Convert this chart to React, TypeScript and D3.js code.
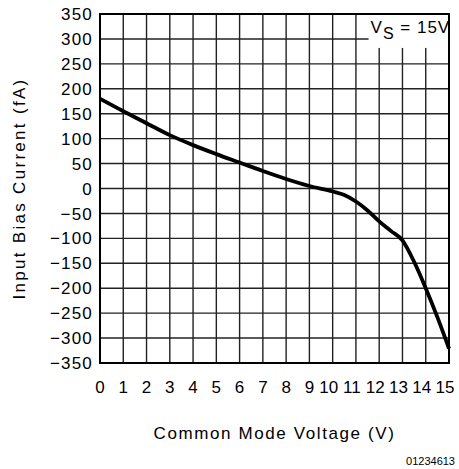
import React from 'react'
import * as d3 from 'd3'

// Common mode voltage (V) and input bias current (fA)
const voltage = [0, 1, 2, 3, 4, 5, 6, 7, 8, 9, 10, 10.5, 11, 11.5, 12, 12.5, 13, 13.5, 14, 14.5, 15]
const biasCurrent = [180, 155, 131, 107, 87, 69, 52, 35, 19, 5, -6, -13, -26, -44, -66, -85, -104, -147, -200, -258, -321]

const xTicks = d3.range(0, 16, 1)
const yTicks = d3.range(-350, 351, 50)

const xLabel = 'Common Mode Voltage (V)'
const yLabel = 'Input Bias Current (fA)'
const noteId = '01234613'

const W = 459
const H = 469
const margin = { left: 100, right: 10, top: 14, bottom: 106 }
const font = '"Liberation Sans", Arial, sans-serif'

const fmt = (v: number) => (v < 0 ? '\u2212' + Math.abs(v) : String(v))

export default function App () {
    const x = d3.scaleLinear().domain([0, 15]).range([margin.left, W - margin.right])
    const y = d3.scaleLinear().domain([-350, 350]).range([H - margin.bottom, margin.top])

    const line = d3.line<number>()
        .x((_, i) => x(voltage[i]))
        .y((d) => y(d))
        .curve(d3.curveMonotoneX)

    const boxLeft = x(11.5) + 1
    const boxBottom = y(300) + 9

    return (
        <svg width={W} height={H} style={{ position: 'absolute', left: 0, top: 0, background: '#fff' }}>
            {/* grid */}
            <g stroke='#222' strokeWidth={1.4}>
                {xTicks.map((t) => (
                    <line key={'vx' + t} x1={x(t)} x2={x(t)} y1={y(-350)} y2={y(350)} />
                ))}
                {yTicks.map((t) => (
                    <line key={'hy' + t} x1={x(0)} x2={x(15)} y1={y(t)} y2={y(t)} />
                ))}
            </g>
            {/* legend box clears the grid behind it */}
            <rect x={boxLeft} y={y(350) + 1} width={x(15) - boxLeft - 1} height={boxBottom - y(350) - 1} fill='#fff' />
            <text x={boxLeft + 2} y={y(350) + 19} fontFamily={font} fontSize={17} letterSpacing={1} fill='#000'>
                V<tspan fontSize={16} dy={6}>S</tspan><tspan dy={-6}> = 15V</tspan>
            </text>
            <rect x={x(0)} y={y(350)} width={x(15) - x(0)} height={y(-350) - y(350)} fill='none' stroke='#000' strokeWidth={2} />
            {/* curve */}
            <path d={line(biasCurrent) || ''} fill='none' stroke='#000' strokeWidth={3.8} strokeLinejoin='round' />
            {/* y tick labels */}
            {yTicks.map((t) => (
                <text key={'yl' + t} x={x(0) - 7} y={y(t)} dy='0.36em' textAnchor='end' fontFamily={font} fontSize={17} letterSpacing={1.2} fill='#000'>
                    {fmt(t)}
                </text>
            ))}
            {/* x tick labels */}
            {xTicks.map((t) => (
                <text key={'xl' + t} x={x(t) - (t >= 10 ? 4 : 0)} y={y(-350) + 30} textAnchor='middle' fontFamily={font} fontSize={17} fill='#000'>
                    {t}
                </text>
            ))}
            <text x={(x(0) + x(15)) / 2} y={y(-350) + 76} textAnchor='middle' fontFamily={font} fontSize={17} letterSpacing={1.6} fill='#000'>
                {xLabel}
            </text>
            <text
                transform={`translate(25, ${(y(350) + y(-350)) / 2}) rotate(-90)`}
                textAnchor='middle'
                fontFamily={font}
                fontSize={17}
                letterSpacing={2.3}
                fill='#000'
            >
                {yLabel}
            </text>
            <text x={455} y={465} textAnchor='end' fontFamily={font} fontSize={11} fill='#000'>
                {noteId}
            </text>
        </svg>
    )
}
